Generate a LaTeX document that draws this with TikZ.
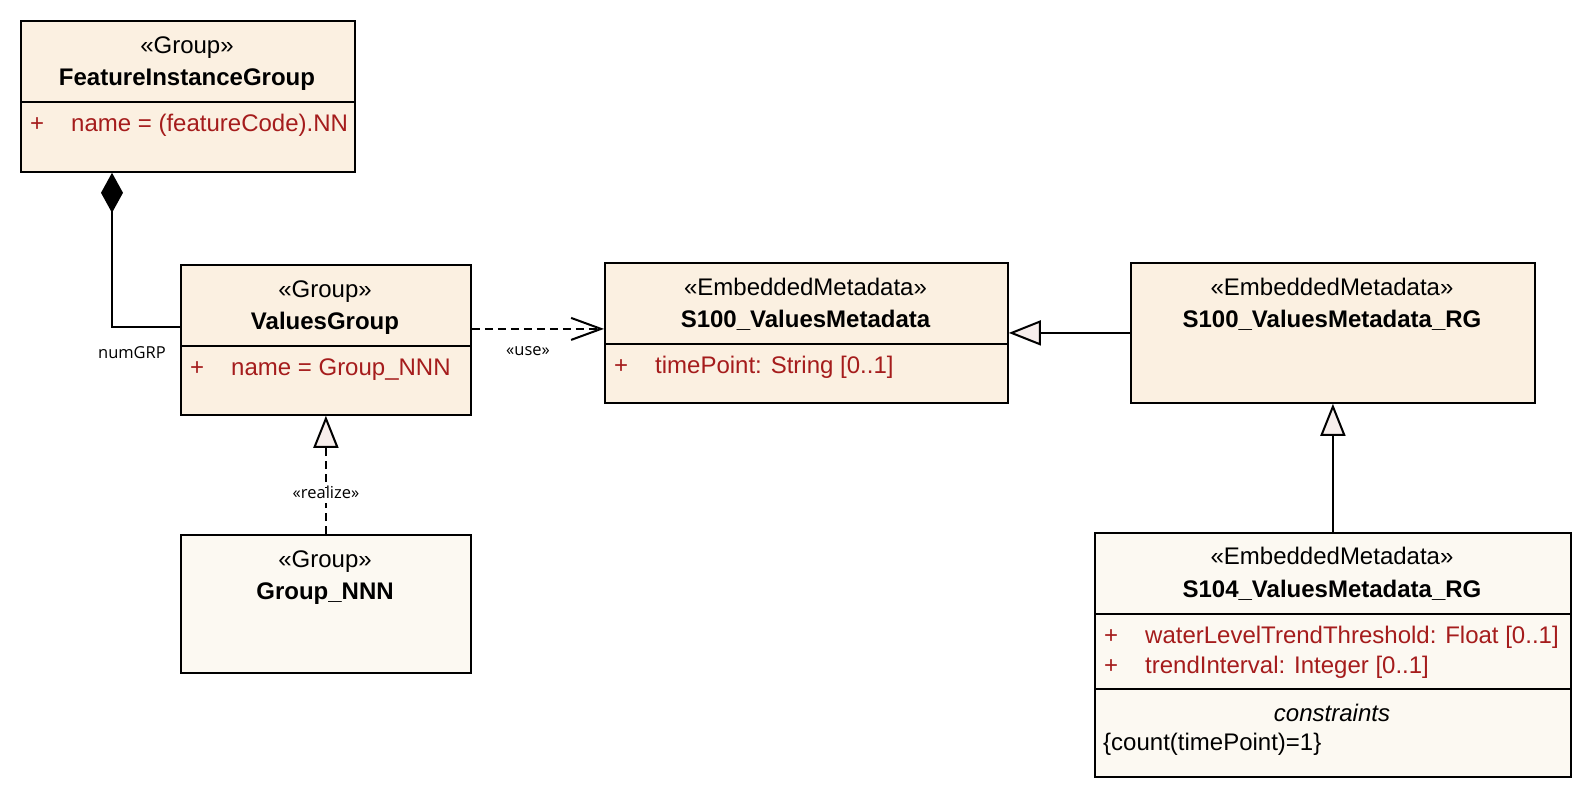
\documentclass[tikz,border=0pt]{standalone}
\usepackage{fontspec}
\setmainfont{Liberation Sans}
\newfontfamily\labelfont{Open Sans}
\usetikzlibrary{arrows.meta,calc}
\definecolor{boxfill}{RGB}{251,240,225}
\definecolor{boxfilllight}{RGB}{252,249,242}
\definecolor{attrred}{RGB}{165,28,28}
\definecolor{tipfill}{RGB}{247,238,236}
\begin{document}
\begin{tikzpicture}[x=1pt,y=-1pt,
  classbox/.style={draw=black, line width=1.8pt, anchor=north west, inner sep=0pt, fill=boxfill},
  lightbox/.style={classbox, fill=boxfilllight},
  sepline/.style={line width=1.8pt},
  stereo/.style={inner sep=0pt, text height=.7em, text depth=0pt, font=\fontsize{24}{28}\selectfont},
  cname/.style={stereo, font=\fontsize{24}{28}\selectfont\bfseries},
  attr/.style={stereo, anchor=west, text=attrred},
  plain/.style={stereo, anchor=west},
  lbl/.style={inner sep=1pt, text height=.7em, text depth=0pt, font=\labelfont\fontsize{16.5}{20}\selectfont},
  conn/.style={line width=2pt},
  dep/.style={conn, dash pattern=on 8pt off 5pt},
  gentip/.style={-{Triangle[length=32pt,width=25pt,fill=tipfill]}},
  opentip/.style={-{Straight Barb[length=30pt,width=22pt]}},
  comptip/.style={{Diamond[length=40pt,width=22pt,fill=black]}-}
]
\useasboundingbox (0,0) rectangle (1592,798);
\fill[white] (0,0) rectangle (1592,798);

% FeatureInstanceGroup
\node[classbox, minimum width=334pt, minimum height=151pt] (fig) at (20,20) {};
\node[stereo] (figst) at (187,50) {«Group»};
\node[cname] (fignm) at (187,82) {FeatureInstanceGroup};
\draw[sepline] (fig.west |- 0,102) -- (fig.east |- 0,102);
\node[attr] (figat) at (30,128) {\makebox[41pt][l]{+}name = (featureCode).NN};

% ValuesGroup
\node[classbox, minimum width=290pt, minimum height=150pt] (vg) at (180,264) {};
\node[stereo] (vgst) at (325,294) {«Group»};
\node[cname] (vgnm) at (325,326) {ValuesGroup};
\draw[sepline] (vg.west |- 0,346) -- (vg.east |- 0,346);
\node[attr] (vgat) at (190,372) {\makebox[41pt][l]{+}name = Group\_NNN};

% Group_NNN
\node[lightbox, minimum width=290pt, minimum height=138pt] (gn) at (180,534) {};
\node[stereo] (gnst) at (325,564) {«Group»};
\node[cname] (gnnm) at (325,596) {Group\_NNN};

% S100_ValuesMetadata
\node[classbox, minimum width=403pt, minimum height=140pt] (svm) at (604,262) {};
\node[stereo] (svmst) at (805.5,292) {«EmbeddedMetadata»};
\node[cname] (svmnm) at (805.5,324) {S100\_ValuesMetadata};
\draw[sepline] (svm.west |- 0,344) -- (svm.east |- 0,344);
\node[attr] (svmat) at (614,370) {\makebox[41pt][l]{+}timePoint: String [0..1]};

% S100_ValuesMetadata_RG
\node[classbox, minimum width=404pt, minimum height=140pt] (rg) at (1130,262) {};
\node[stereo] (rgst) at (1332,292) {«EmbeddedMetadata»};
\node[cname] (rgnm) at (1332,324) {S100\_ValuesMetadata\_RG};

% S104_ValuesMetadata_RG
\node[lightbox, minimum width=476pt, minimum height=244pt] (sr) at (1094,532) {};
\node[stereo] (srst) at (1332,561) {«EmbeddedMetadata»};
\node[cname] (srnm) at (1332,594) {S104\_ValuesMetadata\_RG};
\draw[sepline] (sr.west |- 0,614) -- (sr.east |- 0,614);
\node[attr] (srat1) at (1104,640) {\makebox[41pt][l]{+}waterLevelTrendThreshold: Float [0..1]};
\node[attr] (srat2) at (1104,670) {\makebox[41pt][l]{+}trendInterval: Integer [0..1]};
\draw[sepline] (sr.west |- 0,689) -- (sr.east |- 0,689);
\node[stereo, font=\fontsize{24}{28}\selectfont\itshape] (srcs) at (1332,718) {constraints};
\node[plain] (srct) at (1103,747) {\{count(timePoint)=1\}};

% connectors
\coordinate (figdia) at ($(fig.south west)+(92,0)$);
\coordinate (vgjoin) at ($(vg.west)+(0,-13)$);
\draw[conn, comptip] (figdia) |- (vgjoin);
\node[lbl] (numgrp) at (132,355) {numGRP};

\draw[dep, opentip] ([yshift=11pt]vg.east) -- ([yshift=4pt]svm.west);
\node[lbl] (uselbl) at (528,352) {«use»};

\draw[conn, gentip] (rg.west) -- (svm.east);
\draw[conn, gentip] (sr.north) -- (sr.north |- rg.south);

\draw[dep, gentip] (gn.north) -- (vg.south);
\node[lbl, fill=white, inner ysep=4pt] (reallbl) at (326,495) {«realize»};
\end{tikzpicture}
\end{document}
